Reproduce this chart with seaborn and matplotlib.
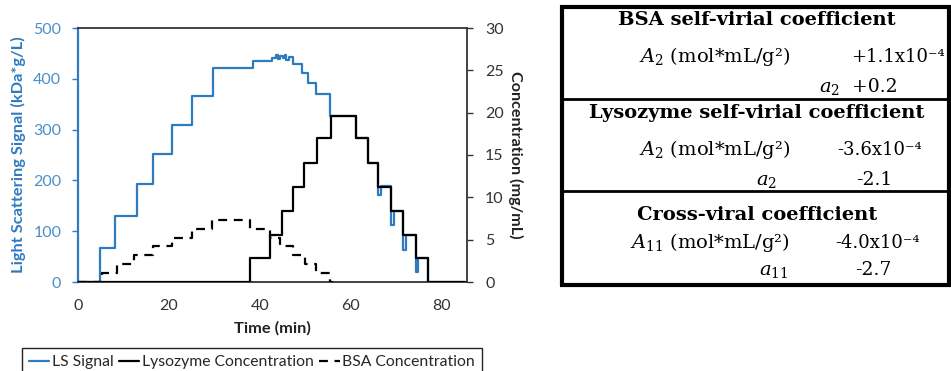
import matplotlib
matplotlib.use("Agg")
import matplotlib.pyplot as plt
import seaborn as sns
import pandas as pd
from matplotlib.lines import Line2D

# Light scattering signal (kDa*g/L): level held from each time (min) on
ls_time = [0, 4.9, 8.1, 12.9, 16.4, 20.6, 25.0, 29.6, 38.5, 42.6, 43.6, 44.0, 44.4,
           45.0, 45.4, 45.8, 46.3, 47.3, 49.3, 50.6, 52.4, 55.4, 61.2, 63.8, 66.0,
           66.5, 68.9, 69.4, 71.5, 72.0, 74.2, 74.7, 77.0, 85.0]
ls_signal = [0, 66, 130, 192, 251, 310, 366, 421, 435, 441, 446, 438, 445,
             440, 446, 437, 443, 430, 411, 391, 371, 327, 283, 235, 172,
             188, 113, 140, 63, 93, 20, 47, 0, 0]

# Lysozyme concentration (mg/mL)
lys_time = [0, 37.8, 42.2, 44.8, 47.2, 49.7, 52.6, 55.5, 61.2, 63.8, 66.0, 68.9,
            71.5, 74.2, 77.0, 85.0]
lys_conc = [0, 2.8, 5.6, 8.4, 11.25, 14.1, 16.95, 19.6, 16.95, 14.1, 11.25, 8.4,
            5.6, 2.8, 0, 0]

# BSA concentration (mg/mL)
bsa_time = [0, 5.2, 8.5, 12.2, 16.5, 20.6, 25.0, 29.4, 37.8, 42.2, 44.4, 47.3,
            49.9, 52.4, 55.4, 56.0]
bsa_conc = [0, 1.05, 2.1, 3.15, 4.2, 5.25, 6.3, 7.35, 6.3, 5.25, 4.2, 3.15,
            2.1, 1.05, 0, 0]

time_ticks = [0, 20, 40, 60, 80]
ls_ticks = [0, 100, 200, 300, 400, 500]
conc_ticks = [0, 5, 10, 15, 20, 25, 30]

series_labels = ["LS Signal", "Lysozyme Concentration", "BSA Concentration"]

# Virial coefficient table
table_titles = ["BSA self-virial coefficient",
                "Lysozyme self-virial coefficient",
                "Cross-viral coefficient"]
table_big_params = [r"$A_2$ (mol*mL/g²)", r"$A_2$ (mol*mL/g²)", r"$A_{11}$ (mol*mL/g²)"]
table_small_params = [r"$a_2$", r"$a_2$", r"$a_{11}$"]
table_big_values = ["+1.1x10⁻⁴", "-3.6x10⁻⁴", "-4.0x10⁻⁴"]
table_small_values = ["+0.2", "-2.1", "-2.7"]

W, H = 951, 371
BLUE = "#2f7bbf"
TICK_BLUE = "#4a8fc8"
DARK = "#333333"

sns.set_style("white")
plt.rcParams["font.family"] = ["Lato", "DejaVu Sans"]
plt.rcParams["mathtext.fontset"] = "dejavuserif"

fig = plt.figure(figsize=(W / 100, H / 100), dpi=100)
ax = fig.add_axes([78 / W, 1 - 282 / H, (467 - 78) / W, (282 - 28) / H])
ax2 = ax.twinx()

ls_df = pd.DataFrame({"time": ls_time, "signal": ls_signal})
lys_df = pd.DataFrame({"time": lys_time, "conc": lys_conc})
bsa_df = pd.DataFrame({"time": bsa_time, "conc": bsa_conc})

sns.lineplot(data=ls_df, x="time", y="signal", ax=ax, color=BLUE, lw=1.6,
             estimator=None, sort=False, drawstyle="steps-post")
sns.lineplot(data=lys_df, x="time", y="conc", ax=ax2, color="black", lw=1.6,
             estimator=None, sort=False, drawstyle="steps-post")
sns.lineplot(data=bsa_df, x="time", y="conc", ax=ax2, color="black", lw=1.6,
             estimator=None, sort=False, drawstyle="steps-post")
ax2.lines[-1].set_dashes((4, 3))

ax.set_xlim(0, 85.5)
ax.set_ylim(0, 500)
ax2.set_ylim(0, 30)
ax.set_xticks(time_ticks)
ax.set_yticks(ls_ticks)
ax2.set_yticks(conc_ticks)

ax.set_xlabel("Time (min)", fontsize=11.8, fontweight="bold", color="#222222", labelpad=6)
ax.set_ylabel("Light Scattering Signal (kDa*g/L)", fontsize=11.8, fontweight="bold",
              color=BLUE, labelpad=5)
ax2.set_ylabel("Concentration (mg/mL)", fontsize=11.6, fontweight="bold",
               color="#222222", rotation=270, labelpad=14)

ax.tick_params(axis="x", direction="inout", length=6, width=1, colors=DARK,
               labelsize=11.5, labelcolor=DARK, pad=9)
ax.tick_params(axis="y", direction="out", length=4, width=1, colors=BLUE,
               labelsize=11.5, labelcolor=TICK_BLUE, pad=8)
ax2.tick_params(axis="y", direction="out", length=4, width=1, colors=DARK,
                labelsize=11.5, labelcolor=DARK, pad=9)

for s in ["top", "bottom"]:
    ax.spines[s].set_color(DARK)
    ax.spines[s].set_linewidth(1.3)
ax.spines["left"].set_color(BLUE)
ax.spines["left"].set_linewidth(1.6)
ax.spines["right"].set_visible(False)
for s in ["left", "top", "bottom"]:
    ax2.spines[s].set_visible(False)
ax2.spines["right"].set_color(DARK)
ax2.spines["right"].set_linewidth(1.3)

handles = [Line2D([], [], color=BLUE, lw=1.6),
           Line2D([], [], color="black", lw=1.6),
           Line2D([], [], color="black", lw=1.6, dashes=(4, 3))]
leg = fig.legend(handles, series_labels, loc="upper left",
                 bbox_to_anchor=(22 / W, 1 - 348 / H), ncol=3, fontsize=11.3,
                 frameon=True, fancybox=False, framealpha=1, borderpad=0.45,
                 handlelength=1.3, handletextpad=0.15, columnspacing=0.35,
                 borderaxespad=0)
leg.get_frame().set_edgecolor("#222222")
leg.get_frame().set_linewidth(1.0)


def fp(x, y):
    return x / W, 1 - y / H


# table borders
def hline(y, x0, x1, lw):
    fig.add_artist(Line2D([x0 / W, x1 / W], [1 - y / H, 1 - y / H], color="black",
                          lw=lw, transform=fig.transFigure, solid_capstyle="butt"))


def vline(x, y0, y1, lw):
    fig.add_artist(Line2D([x / W, x / W], [1 - y0 / H, 1 - y1 / H], color="black",
                          lw=lw, transform=fig.transFigure, solid_capstyle="butt"))


hline(6.5, 560, 951, 3.0)
hline(284.5, 560, 951, 3.0)
hline(98.5, 562, 950, 2.0)
hline(191, 562, 950, 2.0)
vline(562, 5, 286, 3.0)
vline(949, 5, 286, 3.0)

serif = "DejaVu Serif"
title_base = [25, 118, 220]
big_base = [62, 155, 248]
small_base = [92, 185, 275]
small_right = [840, 777, 788]
big_val_x = [898, 880, 878]
small_val_x = [875, 874, 873]

for i in range(3):
    fig.text(*fp(757, title_base[i]), table_titles[i], ha="center", va="baseline",
             family=serif, fontweight="bold", fontsize=14, color="black")
    fig.text(*fp(790, big_base[i]), table_big_params[i], ha="right", va="baseline",
             family=serif, fontsize=14, color="black")
    fig.text(*fp(big_val_x[i], big_base[i]), table_big_values[i], ha="center",
             va="baseline", family=serif, fontsize=13, color="black")
    fig.text(*fp(small_right[i], small_base[i]), table_small_params[i], ha="right",
             va="baseline", family=serif, fontsize=14, color="black")
    fig.text(*fp(small_val_x[i], small_base[i]), table_small_values[i], ha="center",
             va="baseline", family=serif, fontsize=13.5, color="black")

fig.savefig("out.png", dpi=100)
